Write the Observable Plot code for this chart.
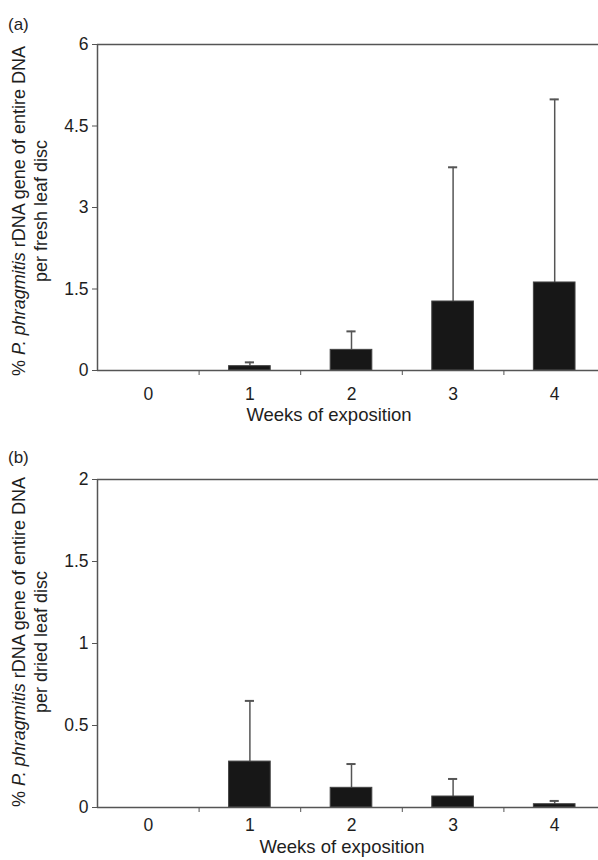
<!DOCTYPE html>
<html>
<head>
<meta charset="utf-8">
<script src="https://cdn.jsdelivr.net/npm/d3@7"></script>
<script src="https://cdn.jsdelivr.net/npm/@observablehq/plot@0.6"></script>
<style>
  html, body { margin: 0; padding: 0; background: #fff; overflow: hidden; }
  #charts svg { display: block; }
</style>
</head>
<body>
<div id="charts"></div>
<script>
// Weeks of exposition
const weeks = [0, 1, 2, 3, 4];

// (a) fresh leaf discs: mean % and upper error (SD)
const freshMean = [0, 0.08, 0.38, 1.27, 1.62];
const freshErr  = [0, 0.07, 0.34, 2.47, 3.37];

// (b) dried leaf discs: mean % and upper error (SD)
const driedMean = [0, 0.28, 0.12, 0.067, 0.02];
const driedErr  = [0, 0.37, 0.145, 0.107, 0.02];

const freshTicks = [0, 1.5, 3, 4.5, 6];
const driedTicks = [0, 0.5, 1, 1.5, 2];

const FONT = "'Liberation Sans', Arial, Helvetica, sans-serif";
const LINE = "#555";
const INK = "#1e1e1e";
const fmt = d => String(d);

function panel(opts) {
  const rows = weeks.map((w, i) => ({week: w, mean: opts.mean[i], err: opts.err[i]}))
    .filter(d => d.mean > 0);
  const yMax = opts.ticks[opts.ticks.length - 1];

  const svg = Plot.plot({
    width: 598,
    height: 430,
    marginTop: opts.marginTop,
    marginBottom: opts.marginBottom,
    marginLeft: 97,
    marginRight: 0,
    style: {fontFamily: FONT, fontSize: "17px", color: INK, overflow: "visible"},
    x: {domain: [-0.5, 4.5], range: [97, 605], label: null},
    y: {domain: [0, yMax], label: null},
    marks: [
      // frame: top line, left axis, zero baseline
      Plot.ruleY([yMax], {stroke: LINE, strokeWidth: 1.5}),
      Plot.ruleX([-0.5], {stroke: LINE, strokeWidth: 1.5}),
      Plot.axisY({ticks: opts.ticks, tickFormat: fmt, tickSize: 5, tickPadding: 4, stroke: LINE, fill: INK, fontSize: 17, label: null}),
      // category separators under the baseline
      Plot.axisX({ticks: [0.5, 1.5, 2.5, 3.5], tickSize: 5, tickFormat: () => "", stroke: LINE, label: null}),
      Plot.axisX({ticks: weeks, tickFormat: fmt, tickSize: 0, tickPadding: opts.tickPad, fill: INK, fontSize: 17, label: null}),
      // error bars (upper only)
      Plot.ruleX(rows, {x: "week", y1: "mean", y2: d => d.mean + d.err, stroke: LINE, strokeWidth: 1.5}),
      Plot.ruleY(rows, {y: d => d.mean + d.err, x1: d => d.week - 0.045, x2: d => d.week + 0.045, stroke: LINE, strokeWidth: 2}),
      // bars
      Plot.rectY(rows, {x1: d => d.week - 0.205, x2: d => d.week + 0.205, y1: 0, y2: "mean", fill: "#171717", stroke: "#444", strokeWidth: 1}),
      Plot.ruleY([0], {stroke: LINE, strokeWidth: 1.5})
    ]
  });

  const s = d3.select(svg);
  // make sure tick labels use the larger size
  s.selectAll('[aria-label$="tick label"]').style("font-size", "17.5px");

  const g = s.append("g").attr("font-family", FONT).attr("fill", INK);

  // panel letter
  g.append("text").attr("x", 8).attr("y", opts.letterY)
    .attr("text-anchor", "start").style("font-size", "17px").text(opts.letter);

  // y-axis title (two lines, species name in italics)
  const t1 = g.append("text")
    .attr("transform", `translate(25,${opts.labelY}) rotate(-90)`)
    .attr("text-anchor", "middle").style("font-size", "18px");
  t1.append("tspan").text("% ");
  t1.append("tspan").attr("font-style", "italic").text("P. phragmitis");
  t1.append("tspan").text(" rDNA gene of entire DNA");
  g.append("text")
    .attr("transform", `translate(47,${opts.labelY}) rotate(-90)`)
    .attr("text-anchor", "middle").style("font-size", "18px")
    .text(opts.line2);

  // x-axis title
  g.append("text").attr("x", opts.xTitleX).attr("y", opts.xTitleY)
    .attr("text-anchor", "middle").style("font-size", "18.5px")
    .text("Weeks of exposition");

  return svg;
}

const root = document.getElementById("charts");
root.append(panel({
  mean: freshMean, err: freshErr, ticks: freshTicks,
  marginTop: 44, marginBottom: 60, tickPad: 17,
  letter: "(a)", letterY: 30, labelY: 211, line2: "per fresh leaf disc",
  xTitleX: 329, xTitleY: 421
}));
root.append(panel({
  mean: driedMean, err: driedErr, ticks: driedTicks,
  marginTop: 49, marginBottom: 53, tickPad: 11,
  letter: "(b)", letterY: 33, labelY: 212, line2: "per dried leaf disc",
  xTitleX: 342, xTitleY: 423
}));
</script>
</body>
</html>
